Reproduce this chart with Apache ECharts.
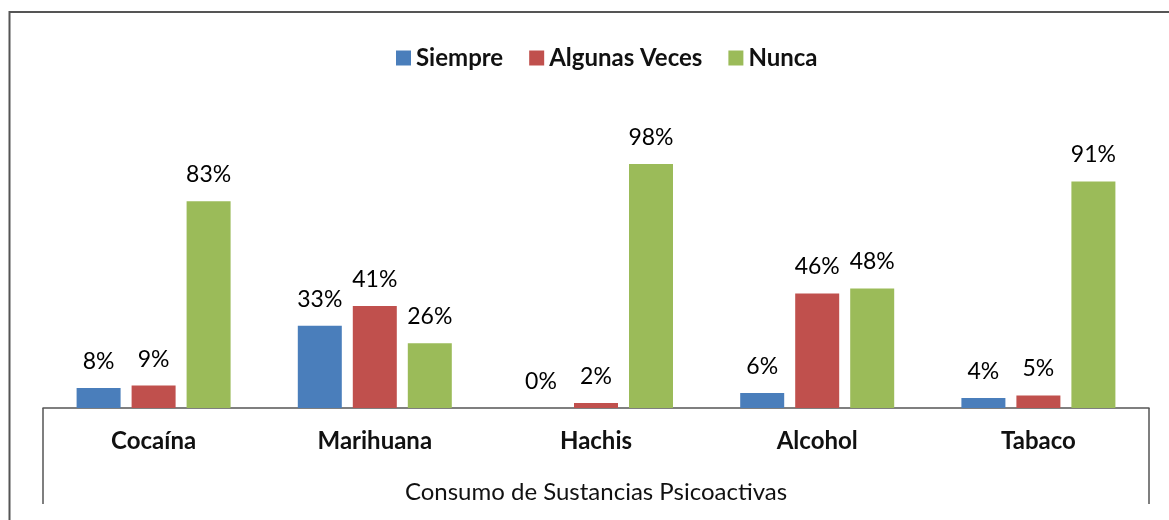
<!DOCTYPE html>
<html>
<head>
<meta charset="utf-8">
<script src="https://cdn.jsdelivr.net/npm/echarts@6/dist/echarts.min.js"></script>
<style>
  html, body { margin: 0; padding: 0; background: #fff; }
  #chart { width: 1169px; height: 520px; }
</style>
</head>
<body>
<div id="chart"></div>
<script>
// datos
const categories = ['Cocaína', 'Marihuana', 'Hachis', 'Alcohol', 'Tabaco']
const siempre = [8, 33, 0, 6, 4]
const algunasVeces = [9, 41, 2, 46, 5]
const nunca = [83, 26, 98, 48, 91]

const FONT = 'Lato, "Open Sans", sans-serif'

function barSeries(name, data, color) {
  return {
    name: name,
    type: 'bar',
    data: data,
    barWidth: 44,
    barGap: '25%',
    itemStyle: { color: color },
    label: {
      show: true,
      position: 'top',
      distance: 15,
      formatter: '{c}%',
      color: '#000',
      fontFamily: FONT,
      fontSize: 23
    }
  }
}

let myChart = echarts.init(document.getElementById('chart'))
let option = {
  animation: false,
  legend: {
    top: 41,
    left: 391,
    itemWidth: 15,
    itemHeight: 15,
    itemGap: 26,
    icon: 'rect',
    textStyle: { fontFamily: FONT, fontSize: 24, fontWeight: 'bold', color: '#111' }
  },
  grid: { left: 43, right: 20, top: 159, bottom: 112 },
  xAxis: {
    type: 'category',
    data: categories,
    axisLine: { lineStyle: { color: '#555', width: 1.5 } },
    axisTick: { show: false },
    axisLabel: { margin: 21, fontFamily: FONT, fontSize: 24, fontWeight: 'bold', color: '#111' },
    name: 'Consumo de Sustancias Psicoactivas',
    nameLocation: 'middle',
    nameGap: 72,
    nameTextStyle: { fontFamily: FONT, fontSize: 24, color: '#111' }
  },
  yAxis: {
    type: 'value',
    min: 0,
    max: 100,
    show: false
  },
  graphic: [
    { type: 'rect', shape: { x: 9.5, y: 12, width: 1300, height: 700 }, style: { fill: 'none', stroke: '#555', lineWidth: 2 } },
    { type: 'line', shape: { x1: 43, y1: 408, x2: 43, y2: 504 }, style: { stroke: '#555', lineWidth: 1.5 } },
    { type: 'line', shape: { x1: 1149, y1: 408, x2: 1149, y2: 504 }, style: { stroke: '#555', lineWidth: 1.5 } }
  ],
  series: [
    barSeries('Siempre', siempre, '#4a7ebb'),
    barSeries('Algunas Veces', algunasVeces, '#c0504d'),
    barSeries('Nunca', nunca, '#9bbb59')
  ]
}

option && myChart.setOption(option)
</script>
</body>
</html>
